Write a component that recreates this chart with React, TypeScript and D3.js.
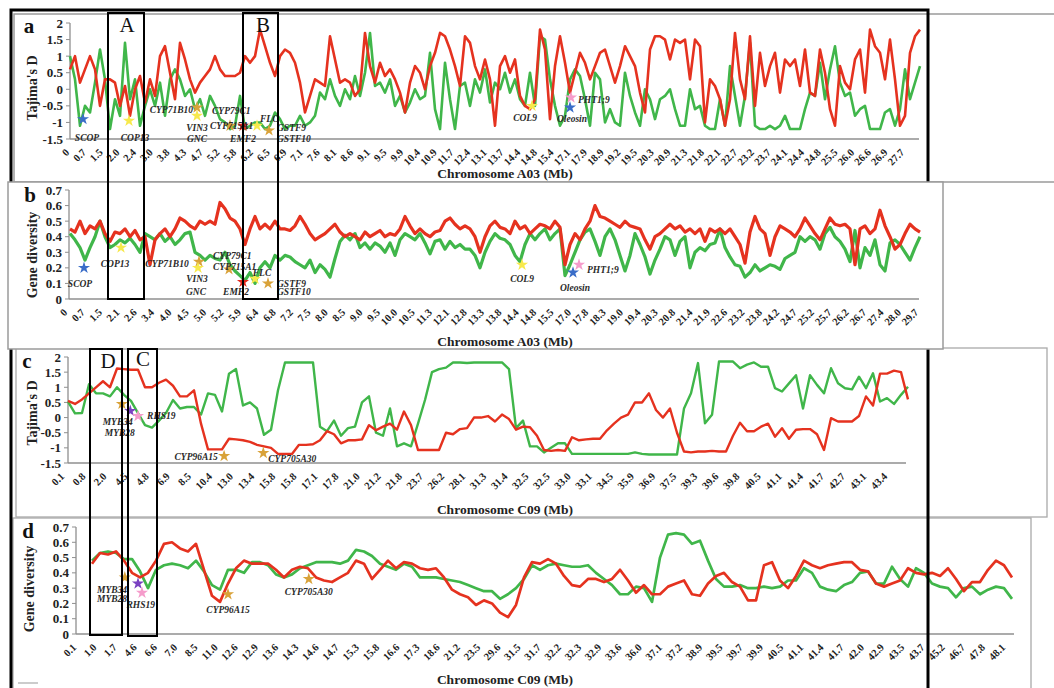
import React from 'react';
import * as d3 from 'd3';

// ---------------- Panel a : Tajima's D, chromosome A03 ----------------
const aTicks = ['0','0.7','1.5','2.0','2.4','3.0','3.8','4.3','4.7','5.2','5.8','6.2','6.5','6.9','7.1','7.6','8.1','8.6','9.1','9.5','9.9','10.4','10.9','11.7','12.4','13.1','13.7','14.4','14.8','15.4','17.1','17.9','18.9','19.2','19.5','20.3','20.9','21.3','21.8','22.1','22.7','23.2','23.7','24.1','24.4','24.8','25.5','26.0','26.6','26.9','27.7'];
const aRed = [
  0.6,1.0,0.2,0.6,1.0,0.6,-0.5,0.3,0.3,0.2,
  -0.5,0.1,-0.8,0.0,0.4,-0.4,0.3,-0.2,1.0,1.3,
  0.5,-0.3,1.4,0.9,0.3,-0.1,0.2,0.4,0.6,1.0,
  0.6,0.4,0.4,0.4,0.5,1.0,0.8,1.0,1.8,1.3,
  0.8,0.4,1.0,1.2,1.1,0.8,0.2,-0.7,-0.2,0.3,
  0.2,0.1,1.6,0.9,0.2,0.3,0.2,-0.2,0.0,
  1.7,0.7,0.2,0.8,0.4,0.6,0.3,-0.1,-0.7,0.2,
  0.7,0.5,0.0,0.7,1.1,1.7,1.6,1.2,0.7,0.1,
  1.6,1.4,0.7,0.3,0.9,0.3,-1.1,0.7,1.0,0.5,
  0.9,-0.2,-0.5,-0.6,-0.3,1.8,1.2,-0.9,0.7,1.6,
  0.8,-0.1,0.5,1.1,0.8,0.3,0.7,1.1,1.2,0.7,
  0.2,0.7,1.3,1.0,0.7,-0.1,-0.7,1.2,1.6,1.6,
  1.5,0.9,1.5,1.4,1.5,0.3,
  1.5,1.3,-1.0,0.3,0.1,-0.3,-1.1,-0.3,1.7,0.3,
  -0.3,1.6,-0.5,1.1,0.1,0.7,1.1,-0.1,0.9,0.7,
  0.9,0.1,1.2,-0.1,-0.2,1.2,0.5,-0.6,-1.1,0.7,
  0.2,0.0,0.9,1.2,-0.1,1.8,1.3,1.1,0.3,1.5,
  0.3,-1.1,-0.8,1.1,1.6,1.8
];
const aGreen = [
  1.0,0.3,-1.1,-0.5,-0.7,0.2,1.2,0.3,-1.2,-0.3,
  -0.8,1.4,-0.3,0.3,-1.1,-0.5,0.0,-0.5,0.2,-0.8,
  0.3,0.6,0.3,-0.2,0.0,-0.6,-0.3,-0.8,-0.2,-0.5,
  -0.9,-1.0,-1.2,-1.1,-0.2,-1.2,-1.1,-1.0,-1.0,-1.2,
  -1.1,-0.7,-0.9,-1.2,-1.1,-1.1,-0.8,-1.1,-1.0,-0.8,
  -0.1,-0.3,0.3,-0.2,-0.5,0.0,-0.3,0.4,-0.2,
  0.5,1.7,0.1,0.2,-0.1,0.3,-0.5,-0.2,-0.7,-0.4,
  0.0,-0.3,-0.2,1.1,-0.6,-1.2,0.8,-0.3,-1.2,0.1,
  0.2,-0.5,0.3,-0.1,0.6,-0.4,0.2,0.0,0.5,-0.1,
  0.3,-0.3,-0.5,0.5,-0.5,1.6,1.5,0.3,-0.5,-1.1,
  -0.8,0.3,0.6,0.4,-0.3,-1.1,0.5,0.3,-1.0,-0.6,
  -1.0,-1.1,0.5,-0.2,-0.7,-1.1,0.0,-0.3,-0.9,-0.3,
  -0.2,0.0,-0.6,-1.1,-1.1,0.0,
  -0.6,-0.5,-1.1,-1.2,-1.2,-0.3,-1.1,0.7,-0.2,-1.1,
  -0.2,1.4,-1.1,-1.2,-1.2,-1.1,-1.2,-1.1,-0.8,-1.2,
  -1.2,-1.2,-0.6,-0.1,-0.2,0.8,-0.3,0.6,1.3,0.2,
  -0.2,-0.1,-0.8,-0.6,-0.5,-1.2,-1.2,-1.2,-0.7,-0.6,
  -1.1,-0.6,0.6,-0.3,0.2,0.7
];

// ---------------- Panel b : gene diversity, chromosome A03 ----------------
const bTicks = ['0','0.7','1.5','2.1','2.6','3.4','4.0','4.5','5.0','5.2','5.9','6.4','6.8','7.2','7.5','8.0','8.5','9.0','9.5','10.0','10.5','11.3','12.1','12.8','13.3','13.8','14.4','14.8','15.5','17.0','17.8','18.3','19.0','19.4','20.3','20.8','21.4','21.9','22.6','23.2','23.8','24.2','24.7','25.2','25.7','26.2','26.7','27.4','28.0','29.7'];
const bRed = [
  0.45,0.43,0.5,0.42,0.47,0.45,0.5,0.42,0.37,0.43,
  0.42,0.45,0.40,0.44,0.38,0.4,0.22,0.38,0.42,0.45,
  0.4,0.45,0.52,0.5,0.47,0.45,0.5,0.48,0.5,0.48,
  0.62,0.58,0.52,0.5,0.45,0.35,0.45,0.53,0.45,0.48,
  0.45,0.5,0.45,0.45,0.44,0.47,0.53,0.48,0.42,0.38,
  0.4,0.42,0.45,0.48,0.43,0.4,0.42,0.4,0.38,
  0.43,0.40,0.42,0.44,0.40,0.42,0.41,0.45,0.53,0.47,
  0.42,0.45,0.42,0.40,0.43,0.44,0.5,0.52,0.48,0.45,
  0.47,0.45,0.40,0.30,0.40,0.47,0.5,0.46,0.45,0.42,
  0.50,0.45,0.47,0.42,0.45,0.48,0.47,0.45,0.50,0.46,
  0.22,0.35,0.42,0.38,0.45,0.50,0.60,0.53,0.52,0.5,
  0.48,0.46,0.5,0.47,0.46,0.45,0.38,0.32,0.4,0.42,
  0.45,0.48,0.45,0.47,0.43,0.45,
  0.42,0.45,0.37,0.45,0.43,0.45,0.42,0.45,0.40,0.35,
  0.23,0.43,0.53,0.45,0.42,0.28,0.4,0.47,0.45,0.43,
  0.40,0.45,0.52,0.47,0.42,0.38,0.45,0.52,0.48,0.47,
  0.48,0.45,0.22,0.45,0.47,0.42,0.45,0.57,0.47,0.40,
  0.32,0.35,0.42,0.48,0.45,0.43
];
const bGreen = [
  0.42,0.38,0.33,0.25,0.33,0.40,0.50,0.40,0.33,0.35,
  0.38,0.36,0.39,0.35,0.30,0.42,0.40,0.38,0.42,0.37,
  0.40,0.35,0.38,0.42,0.43,0.30,0.28,0.25,0.28,0.26,
  0.25,0.30,0.22,0.18,0.15,0.12,0.17,0.10,0.20,0.24,
  0.20,0.28,0.25,0.28,0.27,0.24,0.22,0.20,0.25,0.17,
  0.22,0.19,0.14,0.26,0.37,0.41,0.38,0.42,0.33,
  0.36,0.32,0.36,0.34,0.30,0.36,0.28,0.38,0.42,0.40,
  0.38,0.42,0.36,0.29,0.37,0.38,0.32,0.37,0.33,0.35,
  0.32,0.32,0.28,0.20,0.30,0.37,0.42,0.39,0.38,0.35,
  0.28,0.24,0.35,0.42,0.38,0.42,0.45,0.38,0.42,0.45,
  0.15,0.22,0.30,0.38,0.43,0.45,0.37,0.28,0.40,0.45,
  0.38,0.28,0.18,0.28,0.42,0.35,0.27,0.16,0.25,0.32,
  0.40,0.38,0.28,0.37,0.40,0.20,
  0.30,0.33,0.31,0.35,0.36,0.45,0.33,0.27,0.22,0.21,
  0.14,0.17,0.22,0.18,0.20,0.22,0.21,0.19,0.26,0.28,
  0.30,0.40,0.37,0.40,0.38,0.32,0.42,0.46,0.40,0.37,
  0.32,0.24,0.44,0.20,0.33,0.28,0.38,0.22,0.18,0.36,
  0.38,0.35,0.30,0.25,0.33,0.40
];

// ---------------- Panel c : Tajima's D, chromosome C09 ----------------
const cTicks = ['0.1','0.8','2.0','4.5','4.8','6.9','8.5','10.4','13.0','13.4','15.8','15.8','17.1','17.8','21.0','21.2','21.8','23.7','26.2','28.1','31.3','31.4','32.5','32.5','33.0','33.1','34.5','35.9','36.9','37.5','39.3','39.6','39.8','40.5','41.1','41.4','41.7','42.7','43.1','43.4'];
const cRed = [
  0.55,0.45,0.6,0.8,1.0,1.2,1.0,1.62,1.6,1.58,
  1.58,1.0,1.0,1.15,1.25,1.05,0.7,0.7,0.9,-0.2,
  -1.05,-1.05,-1.05,-0.7,-0.72,-0.75,-0.8,-0.9,-0.95,-1.0,
  -1.2,-1.2,-1.2,-0.9,-0.9,-0.88,-0.75,-0.45,-0.55,-0.85,
  -0.75,-0.75,
  -0.72,-0.25,-0.42,-0.3,-0.2,-0.4,0.2,-0.25,-1.07,-1.07,
  -1.07,-1.07,-0.5,-0.55,-0.38,-0.35,0.0,0.0,0.05,-0.13,
  0.1,-0.05,-0.4,-0.3,-0.32,-0.6,-1.07,-1.1,-1.07,-1.1,
  -0.65,-0.75,-0.72,-0.7,-0.7,-0.42,-0.2,0.0,0.1,0.5,
  0.5,0.8,0.25,0.0,0.3,-0.5,-1.12,-1.15,-1.12,
  -1.12,-1.1,-1.12,-1.12,-0.6,-0.17,-0.45,-0.45,-0.3,-0.2,
  -0.63,-0.35,-0.7,-0.4,-0.38,-0.38,-0.55,-1.07,-0.02,-0.13,
  -0.13,-0.13,0.05,0.7,0.4,1.45,1.45,1.55,1.5,0.6
];
const cGreen = [
  0.53,0.14,0.15,1.1,0.8,0.8,0.7,1.0,0.75,0.55,
  0.15,-0.25,-0.33,-0.1,0.15,0.58,0.3,0.35,0.35,0.1,
  0.8,0.75,0.2,1.45,1.6,0.4,0.5,0.3,-0.57,-0.4,
  0.9,1.82,1.82,1.82,1.82,1.82,-0.3,-0.45,-0.1,-0.6,
  -0.35,-0.3,
  0.5,0.7,-0.5,-0.6,0.3,-0.95,-0.85,-0.95,-0.2,0.58,
  1.5,1.6,1.65,1.82,1.82,1.8,1.82,1.82,1.82,1.82,
  1.82,1.6,-0.35,-0.1,-0.95,-0.95,-1.15,-1.0,-0.85,-0.85,
  -1.2,-1.2,-1.2,-1.2,-1.2,-1.2,-1.2,-1.2,-1.2,-1.15,
  -1.2,-1.22,-1.22,-1.22,-1.22,-1.22,0.3,0.8,1.8,
  -0.19,0.09,1.85,1.85,1.85,1.63,1.75,1.82,1.68,1.68,
  0.97,0.86,1.13,1.4,0.3,1.4,1.08,0.8,1.63,1.13,
  0.97,0.93,1.35,0.97,1.46,0.53,0.64,0.45,0.75,1.02
];

// ---------------- Panel d : gene diversity, chromosome C09 ----------------
const dTicks = ['0.1','1.0','1.7','4.6','6.6','7.0','8.5','11.0','12.6','12.9','13.6','14.3','14.6','14.7','15.3','15.8','16.6','17.3','18.6','21.2','23.5','29.6','31.5','31.7','32.2','32.3','32.9','33.6','36.0','37.1','37.2','38.9','39.5','39.7','39.9','40.5','41.1','41.4','41.7','42.0','42.9','43.5','43.7','45.2','46.7','47.8','48.1'];
const dRed = [
  0.46,0.53,0.52,0.54,0.48,0.40,0.37,0.40,0.48,0.59,
  0.60,0.56,0.54,0.59,0.42,0.25,0.21,0.33,0.43,0.48,
  0.46,0.46,0.46,0.42,0.37,0.42,0.44,0.43,0.37,0.35,
  0.34,0.37,0.40,0.48,0.46,0.36,0.42,0.48,0.43,0.47,
  0.46,0.43,0.42,0.43,0.37,0.29,0.26,0.24,0.19,0.22,
  0.20,0.14,0.11,0.19,0.37,0.47,0.46,0.49,0.46,0.38,
  0.32,0.31,0.36,0.36,0.34,0.36,0.42,0.35,0.27,0.32,
  0.26,0.26,0.31,0.33,0.35,0.26,0.25,0.33,0.38,0.40,
  0.34,0.31,0.22,0.22,0.45,0.47,0.35,0.30,0.38,0.48,
  0.45,0.43,0.45,0.46,0.47,0.47,0.42,0.41,0.33,0.31,
  0.33,0.35,0.43,0.40,0.39,0.40,0.38,0.43,0.36,0.28,
  0.34,0.34,0.42,0.48,0.45,0.37
];
const dGreen = [
  0.48,0.53,0.54,0.53,0.49,0.49,0.41,0.30,0.42,0.45,
  0.46,0.45,0.43,0.48,0.41,0.32,0.29,0.42,0.42,0.40,
  0.47,0.47,0.45,0.39,0.37,0.39,0.43,0.45,0.47,0.47,
  0.47,0.46,0.48,0.55,0.54,0.51,0.46,0.44,0.42,0.46,
  0.44,0.37,0.37,0.37,0.36,0.35,0.34,0.32,0.30,0.28,
  0.28,0.23,0.26,0.30,0.36,0.45,0.42,0.45,0.46,0.45,
  0.44,0.44,0.45,0.40,0.36,0.32,0.26,0.26,0.31,0.30,
  0.21,0.50,0.65,0.66,0.65,0.59,0.61,0.48,0.36,0.31,
  0.31,0.32,0.30,0.30,0.31,0.30,0.31,0.35,0.35,0.43,
  0.40,0.31,0.29,0.28,0.32,0.34,0.40,0.41,0.33,0.33,
  0.44,0.36,0.31,0.43,0.40,0.33,0.31,0.30,0.24,0.30,
  0.31,0.26,0.29,0.31,0.30,0.23
];

const tajimaTicks = [-1.5, -1, -0.5, 0, 0.5, 1, 1.5, 2];
const diversityTicks = [0, 0.1, 0.2, 0.3, 0.4, 0.5, 0.6, 0.7];

// star colours
const BLUE = '#3a6dc8', YELLOW = '#f7e94c', ORANGE = '#d9a239', REDS = '#e4281c', PINK = '#f59ccb', PURPLE = '#7a42c2';

type StarT = { name: string; i: number; v: number; color: string };
type NoteT = { text: string; i: number; v: number; anchor: 'start' | 'middle' | 'end' };

const aStars: StarT[] = [
  { name: 'SCOP', i: 2.6, v: -0.9, color: BLUE },
  { name: 'COP13', i: 11.8, v: -0.95, color: YELLOW },
  { name: 'CYP71B10', i: 25.4, v: -0.55, color: ORANGE },
  { name: 'VIN3', i: 25.4, v: -0.8, color: YELLOW },
  { name: 'CYP715A1', i: 32, v: -1.1, color: ORANGE },
  { name: 'EMF2', i: 34.6, v: -1.1, color: REDS },
  { name: 'FLC', i: 37.4, v: -1.1, color: YELLOW },
  { name: 'GSTF9', i: 39.8, v: -1.24, color: ORANGE },
  { name: 'COL9', i: 92.4, v: -0.5, color: YELLOW },
  { name: 'PHT1;9', i: 100.2, v: -0.25, color: PINK },
  { name: 'Oleosin', i: 100, v: -0.55, color: BLUE },
];
const aNotes: NoteT[] = [
  { text: 'SCOP', i: 3.4, v: -1.45, anchor: 'middle' },
  { text: 'COP13', i: 13, v: -1.45, anchor: 'middle' },
  { text: 'CYP71B10', i: 24.6, v: -0.63, anchor: 'end' },
  { text: 'VIN3', i: 25.4, v: -1.15, anchor: 'middle' },
  { text: 'GNC', i: 25.4, v: -1.48, anchor: 'middle' },
  { text: 'CYP79C1', i: 28.4, v: -0.66, anchor: 'start' },
  { text: 'CYP715A1', i: 28, v: -1.1, anchor: 'start' },
  { text: 'EMF2', i: 34.6, v: -1.48, anchor: 'middle' },
  { text: 'FLC', i: 38, v: -0.9, anchor: 'start' },
  { text: 'GSTF9', i: 41.4, v: -1.15, anchor: 'start' },
  { text: 'GSTF10', i: 41.4, v: -1.48, anchor: 'start' },
  { text: 'COL9', i: 91, v: -0.85, anchor: 'middle' },
  { text: 'PHT1;9', i: 101.6, v: -0.3, anchor: 'start' },
  { text: 'Oleosin', i: 100.4, v: -0.9, anchor: 'middle' },
];
const bStars: StarT[] = [
  { name: 'SCOP', i: 2.8, v: 0.2, color: BLUE },
  { name: 'COP13', i: 10.2, v: 0.33, color: YELLOW },
  { name: 'CYP79C1', i: 25.8, v: 0.24, color: ORANGE },
  { name: 'VIN3', i: 25.6, v: 0.2, color: YELLOW },
  { name: 'CYP715A1', i: 31.8, v: 0.19, color: ORANGE },
  { name: 'EMF2', i: 34.6, v: 0.11, color: REDS },
  { name: 'FLC', i: 37, v: 0.13, color: YELLOW },
  { name: 'GSTF9', i: 39.6, v: 0.1, color: ORANGE },
  { name: 'COL9', i: 90.4, v: 0.22, color: YELLOW },
  { name: 'PHT1;9', i: 101.8, v: 0.22, color: PINK },
  { name: 'Oleosin', i: 100.6, v: 0.17, color: BLUE },
];
const bNotes: NoteT[] = [
  { text: 'SCOP', i: 2, v: 0.1, anchor: 'middle' },
  { text: 'COP13', i: 9, v: 0.23, anchor: 'middle' },
  { text: 'CYP71B10', i: 19.4, v: 0.225, anchor: 'middle' },
  { text: 'VIN3', i: 25.4, v: 0.13, anchor: 'middle' },
  { text: 'GNC', i: 25.2, v: 0.05, anchor: 'middle' },
  { text: 'CYP79C1', i: 28.6, v: 0.28, anchor: 'start' },
  { text: 'CYP715A1', i: 28.6, v: 0.21, anchor: 'start' },
  { text: 'EMF2', i: 33.2, v: 0.045, anchor: 'middle' },
  { text: 'FLC', i: 38.4, v: 0.17, anchor: 'middle' },
  { text: 'GSTF9', i: 41.4, v: 0.1, anchor: 'start' },
  { text: 'GSTF10', i: 41.4, v: 0.045, anchor: 'start' },
  { text: 'COL9', i: 90.4, v: 0.13, anchor: 'middle' },
  { text: 'PHT1;9', i: 103.4, v: 0.19, anchor: 'start' },
  { text: 'Oleosin', i: 101, v: 0.07, anchor: 'middle' },
];
const cStars: StarT[] = [
  { name: 'MYB34', i: 7.7, v: 0.45, color: ORANGE },
  { name: 'MYB28', i: 8.9, v: 0.22, color: PURPLE },
  { name: 'RHS19', i: 10, v: 0.05, color: PINK },
  { name: 'CYP96A15', i: 22.3, v: -1.27, color: ORANGE },
  { name: 'CYP705A30', i: 27.9, v: -1.17, color: ORANGE },
];
const cNotes: NoteT[] = [
  { text: 'MYB34', i: 7.1, v: -0.15, anchor: 'middle' },
  { text: 'MYB28', i: 7.4, v: -0.51, anchor: 'middle' },
  { text: 'RHS19', i: 11.3, v: 0.05, anchor: 'start' },
  { text: 'CYP96A15', i: 21.4, v: -1.3, anchor: 'end' },
  { text: 'CYP705A30', i: 28.6, v: -1.37, anchor: 'start' },
];
const dStars: StarT[] = [
  { name: 'MYB34', i: 4.1, v: 0.37, color: ORANGE },
  { name: 'MYB28', i: 5.75, v: 0.33, color: PURPLE },
  { name: 'RHS19', i: 6.25, v: 0.27, color: PINK },
  { name: 'CYP96A15', i: 17, v: 0.26, color: ORANGE },
  { name: 'CYP705A30', i: 27.1, v: 0.36, color: ORANGE },
];
const dNotes: NoteT[] = [
  { text: 'MYB34', i: 2.5, v: 0.29, anchor: 'middle' },
  { text: 'MYB28', i: 2.5, v: 0.23, anchor: 'middle' },
  { text: 'RHS19', i: 6.1, v: 0.19, anchor: 'middle' },
  { text: 'CYP96A15', i: 17, v: 0.157, anchor: 'middle' },
  { text: 'CYP705A30', i: 27.1, v: 0.28, anchor: 'middle' },
];

const RED = '#e5321f';
const GREEN = '#40b64a';
const AXIS = '#8f8f8f';
const SERIF = '"Liberation Serif", "Times New Roman", serif';

interface PanelProps {
  red: number[]; green: number[];
  dataX: [number, number]; axisX: [number, number];
  yDomain: [number, number]; yRange: [number, number];
  yTicks: number[]; yFmt: (v: number) => string;
  ticks: string[]; tickX: [number, number];
  stars: StarT[]; notes: NoteT[]; lineW: number;
  letter: string; letterPos: [number, number];
  yTitle: string; yTitlePos: [number, number];
  xTitle: string; xTitleY: number;
}

function Panel(p: PanelProps) {
  const x = d3.scaleLinear().domain([0, p.red.length - 1]).range(p.dataX);
  const y = d3.scaleLinear().domain(p.yDomain).range(p.yRange);
  const tx = d3.scalePoint<number>().domain(d3.range(p.ticks.length)).range(p.tickX);
  const line = d3.line<number>().x((_, i) => x(i)).y((v) => y(v));
  const starPath = d3.symbol().type(d3.symbolStar).size(46)() as string;
  const y0 = p.yRange[0];
  return (
    <g>
      <line x1={p.axisX[0]} x2={p.axisX[1]} y1={y0} y2={y0} stroke={AXIS} strokeWidth={1.3} />
      <line x1={p.axisX[0]} x2={p.axisX[0]} y1={y0} y2={p.yRange[1]} stroke={AXIS} strokeWidth={1.3} />
      {p.yTicks.map((t) => (
        <g key={t}>
          <line x1={p.axisX[0] - 4} x2={p.axisX[0]} y1={y(t)} y2={y(t)} stroke={AXIS} />
          <text x={p.axisX[0] - 7} y={y(t)} dy="0.35em" textAnchor="end" fontSize={13} fontWeight="bold" fill="#222">{p.yFmt(t)}</text>
        </g>
      ))}
      {p.ticks.map((t, i) => (
        <text key={i} transform={`translate(${tx(i)},${y0 + 14}) rotate(-45)`} textAnchor="end" fontSize={10.5} fontWeight="bold" fill="#222">{t}</text>
      ))}
      <path d={line(p.green) as string} fill="none" stroke={GREEN} strokeWidth={p.lineW} strokeLinejoin="round" />
      <path d={line(p.red) as string} fill="none" stroke={RED} strokeWidth={p.lineW} strokeLinejoin="round" />
      {p.stars.map((s, k) => (
        <path key={k} d={starPath} transform={`translate(${x(s.i)},${y(s.v)})`} fill={s.color} />
      ))}
      {p.notes.map((n, k) => (
        <text key={k} x={x(n.i)} y={y(n.v)} dy="0.35em" textAnchor={n.anchor} fontSize={9.5} fontStyle="italic" fontWeight="bold" fill="#2a2a2a">{n.text}</text>
      ))}
      <text x={p.letterPos[0]} y={p.letterPos[1]} textAnchor="middle" fontSize={21} fontWeight="bold" fill="#111">{p.letter}</text>
      <text transform={`translate(${p.yTitlePos[0]},${p.yTitlePos[1]}) rotate(-90)`} textAnchor="middle" dy="0.35em" fontSize={14} fontWeight="bold" fill="#222">{p.yTitle}</text>
      <text x={505} y={p.xTitleY} textAnchor="middle" fontSize={13.5} fontWeight="bold" fill="#222">{p.xTitle}</text>
    </g>
  );
}

const tajFmt = (v: number) => String(v);
const divFmt = (v: number) => d3.format('.1~f')(v);

export default function App() {
  return (
    <svg width={1054} height={688} style={{ position: 'absolute', left: 0, top: 0, background: '#fff' }} fontFamily={SERIF}>
      <rect x={0} y={0} width={1054} height={688} fill="#fff" />
      {/* panel frames a, c, d */}
      <rect x={14} y={14} width={1060} height={168} fill="none" stroke="#9a9a9a" strokeWidth={1.5} />
      <rect x={16} y={348} width={1031} height={169} fill="#fff" stroke="#aaa" strokeWidth={1.3} />
      <rect x={13} y={518} width={1018} height={200} fill="#fff" stroke="#aaa" strokeWidth={1.3} />

      <Panel red={aRed} green={aGreen} dataX={[70, 920]} axisX={[70, 919]} yDomain={[-1.5, 2]} yRange={[139, 23]}
        yTicks={tajimaTicks} yFmt={tajFmt} ticks={aTicks} tickX={[70, 905]} stars={aStars} notes={aNotes} lineW={2.6}
        letter="a" letterPos={[29, 33]} yTitle="Tajima's D" yTitlePos={[32, 88]} xTitle="Chromosome A03 (Mb)" xTitleY={178} />
      <Panel red={cRed} green={cGreen} dataX={[68, 908]} axisX={[68, 906]} yDomain={[-1.5, 2]} yRange={[463, 357]}
        yTicks={tajimaTicks} yFmt={tajFmt} ticks={cTicks} tickX={[65, 888]} stars={cStars} notes={cNotes} lineW={2.4}
        letter="c" letterPos={[27, 368]} yTitle="Tajima's D" yTitlePos={[32, 413]} xTitle="Chromosome C09 (Mb)" xTitleY={514} />
      <Panel red={dRed} green={dGreen} dataX={[92, 1012]} axisX={[76, 1014]} yDomain={[0, 0.7]} yRange={[634, 527]}
        yTicks={diversityTicks} yFmt={divFmt} ticks={dTicks} tickX={[77, 1006]} stars={dStars} notes={dNotes} lineW={2.7}
        letter="d" letterPos={[28, 538]} yTitle="Gene diversity" yTitlePos={[29, 589]} xTitle="Chromosome C09 (Mb)" xTitleY={684} />

      {/* outer black frame */}
      <rect x={11} y={10} width={917} height={700} fill="none" stroke="#000" strokeWidth={3} />

      {/* panel b on top */}
      <rect x={8} y={182} width={935} height={167} fill="#fff" stroke="#9a9a9a" strokeWidth={1.5} />
      <Panel red={bRed} green={bGreen} dataX={[70, 920]} axisX={[69, 919]} yDomain={[0, 0.7]} yRange={[299, 190]}
        yTicks={diversityTicks} yFmt={divFmt} ticks={bTicks} tickX={[68, 919]} stars={bStars} notes={bNotes} lineW={3.2}
        letter="b" letterPos={[30, 202]} yTitle="Gene diversity" yTitlePos={[32, 255]} xTitle="Chromosome A03 (Mb)" xTitleY={346} />

      {/* highlight boxes */}
      <rect x={108} y={13} width={36} height={286} fill="none" stroke="#000" strokeWidth={2} />
      <rect x={243} y={13} width={35} height={286} fill="none" stroke="#000" strokeWidth={2} />
      <rect x={90} y={349} width={32} height={286} fill="none" stroke="#000" strokeWidth={2} />
      <rect x={128} y={349} width={29} height={287} fill="none" stroke="#000" strokeWidth={2} />
      <text x={127} y={32} textAnchor="middle" fontSize={21} fill="#111">A</text>
      <text x={263} y={32} textAnchor="middle" fontSize={21} fill="#111">B</text>
      <text x={108} y={368} textAnchor="middle" fontSize={21} fill="#111">D</text>
      <text x={143} y={366} textAnchor="middle" fontSize={21} fill="#111">C</text>

      <line x1={18} x2={38} y1={683} y2={683} stroke="#999" strokeWidth={1} />
    </svg>
  );
}
